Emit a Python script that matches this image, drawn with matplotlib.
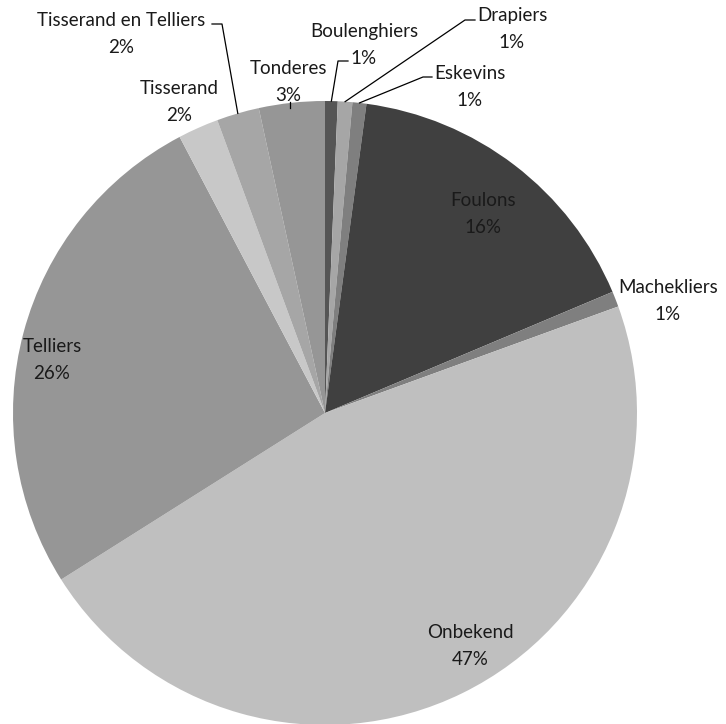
import numpy as np
import matplotlib

matplotlib.use("Agg")
import matplotlib.pyplot as plt

# Slice data, clockwise from 12 o'clock
categories = [
    "Boulenghiers", "Drapiers", "Eskevins", "Foulons", "Machekliers",
    "Onbekend", "Telliers", "Tisserand", "Tisserand en Telliers", "Tonderes",
]
shares = [0.65, 0.75, 0.72, 16.5, 0.8, 46.5, 26.2, 2.1, 2.2, 3.4]
pct_labels = ["1%", "1%", "1%", "16%", "1%", "47%", "26%", "2%", "2%", "3%"]

colors = ["#555555", "#a6a6a6", "#7f7f7f", "#404040", "#7f7f7f",
          "#bfbfbf", "#969696", "#c8c8c8", "#a6a6a6", "#969696"]

W, H = 726, 724
CX, CY, R = 325, 413, 312


def px(x, y):
    """pixel position -> data coords (pie radius = 1)"""
    return (x - CX) / R, (CY - y) / R


# label centre (pixels) and optional leader elbow (pixels, text side)
label_pos = {
    "Boulenghiers": (364, 45),
    "Drapiers": (512, 29),
    "Eskevins": (470, 87),
    "Foulons": (483, 214),
    "Machekliers": (668, 301),
    "Onbekend": (470, 646),
    "Telliers": (52, 360),
    "Tisserand": (179, 102),
    "Tisserand en Telliers": (121, 34),
    "Tonderes": (288, 82),
}
leaders = {
    "Boulenghiers": [(338, 61), (348, 61)],
    "Drapiers": [(465, 20), (475, 20)],
    "Eskevins": [(423, 77), (432, 77)],
    "Tisserand en Telliers": [(222, 24), (212, 24)],
}

fig = plt.figure(figsize=(W / 100, H / 100), dpi=100)
ax = fig.add_axes([(CX - R) / W, (H - CY - R) / H, 2 * R / W, 2 * R / H])
wedges, _ = ax.pie(
    shares,
    colors=colors,
    startangle=90,
    counterclock=False,
    radius=1.0,
    wedgeprops={"linewidth": 0},
)
ax.set_xlim(-1, 1)
ax.set_ylim(-1, 1)
ax.set_aspect("equal")
ax.axis("off")

for wedge, name, pct in zip(wedges, categories, pct_labels):
    x, y = px(*label_pos[name])
    ax.text(x, y, f"{name}\n{pct}", ha="center", va="center",
            fontsize=13.5, family=["Lato", "DejaVu Sans"], color="#1a1a1a",
            linespacing=1.75, clip_on=False)
    if name in leaders:
        mid = np.deg2rad((wedge.theta1 + wedge.theta2) / 2)
        pts = [(np.cos(mid), np.sin(mid))]
        pts += [px(*p) for p in leaders[name]]
        xs, ys = zip(*pts)
        ax.plot(xs, ys, color="#000000", linewidth=0.9, clip_on=False)

# small tick between the Tonderes label and the pie
ax.plot(*zip(px(290, 102), px(290, 108)), color="#000000", linewidth=0.9)

fig.savefig("out.png", dpi=100)
